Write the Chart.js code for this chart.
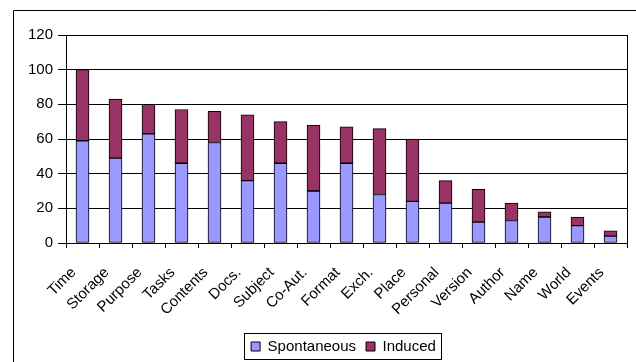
<!DOCTYPE html>
<html>
<head>
<meta charset="utf-8">
<script src="https://cdn.jsdelivr.net/npm/chart.js@4"></script>
<style>
  html, body { margin: 0; padding: 0; background: #fff; }
  #wrap { width: 636px; height: 362px; }
</style>
</head>
<body>
<div id="wrap"><canvas id="chart" width="636" height="362"></canvas></div>
<script>
// === DATI ===
const categories = ["Time", "Storage", "Purpose", "Tasks", "Contents", "Docs.", "Subject", "Co-Aut.", "Format", "Exch.", "Place", "Personal", "Version", "Author", "Name", "World", "Events"];
const spontaneous = [59, 49, 63, 46, 58, 36, 46, 30, 46, 28, 24, 23, 12, 13, 15, 10, 4];
const induced = [41, 34, 17, 31, 18, 38, 24, 38, 21, 38, 36, 13, 19, 10, 3, 5, 3];
const yTicks = [0, 20, 40, 60, 80, 100, 120];

const FONT = { family: "'Liberation Sans', Arial, sans-serif", size: 15 };
const LEGEND_SHIFT_X = 30;
const LEGEND_SHIFT_Y = 4;

// cornice esterna + bordo area grafico + riquadro legenda
const framePlugin = {
    id: "frame",
    afterUpdate(chart) {
        // la legenda nel riferimento e' centrata sull'area del grafico, non sul canvas
        const lg = chart.legend;
        lg.left += LEGEND_SHIFT_X; lg.right += LEGEND_SHIFT_X;
        lg.top += LEGEND_SHIFT_Y; lg.bottom += LEGEND_SHIFT_Y;
        lg.legendHitBoxes.forEach(b => { b.left += LEGEND_SHIFT_X; b.top += LEGEND_SHIFT_Y; });
    },
    beforeDraw(chart) {
        const ctx = chart.ctx;
        ctx.save();
        ctx.strokeStyle = "#000";
        ctx.lineWidth = 1;
        ctx.beginPath();
        ctx.moveTo(13.5, 400);
        ctx.lineTo(13.5, 10.5);
        ctx.lineTo(700, 10.5);
        ctx.stroke();
        ctx.restore();
    },
    afterDraw(chart) {
        const ctx = chart.ctx;
        const a = chart.chartArea;
        ctx.save();
        ctx.strokeStyle = "#000";
        ctx.lineWidth = 1;
        ctx.strokeRect(Math.round(a.left) + 0.5, Math.round(a.top) + 0.5, Math.round(a.right - a.left), Math.round(a.bottom - a.top));

        const boxes = chart.legend.legendHitBoxes;
        if (boxes && boxes.length) {
            const l = Math.min(...boxes.map(b => b.left));
            const r = Math.max(...boxes.map(b => b.left + b.width));
            const t = Math.min(...boxes.map(b => b.top));
            const bt = Math.max(...boxes.map(b => b.top + b.height));
            ctx.strokeRect(Math.round(l) - 6.5, Math.round(t) - 5.5, Math.round(r - l) + 12, Math.round(bt - t) + 11);
        }
        ctx.restore();
    }
};

new Chart(document.getElementById("chart"), {
    type: "bar",
    data: {
        labels: categories,
        datasets: [
            { label: "Spontaneous", data: spontaneous, backgroundColor: "#9999ff", borderColor: "#000", borderWidth: 1, borderSkipped: false },
            { label: "Induced", data: induced, backgroundColor: "#993366", borderColor: "#000", borderWidth: 1, borderSkipped: false }
        ]
    },
    options: {
        responsive: false,
        animation: false,
        events: [],
        layout: { padding: { top: 35, right: 9, left: 0, bottom: 2 } },
        datasets: { bar: { barThickness: 13, categoryPercentage: 1 } },
        plugins: {
            legend: {
                position: "bottom",
                labels: { font: FONT, color: "#000", boxWidth: 9, boxHeight: 9, padding: 10 }
            },
            tooltip: { enabled: false }
        },
        scales: {
            x: {
                stacked: true,
                grid: { offset: true, drawOnChartArea: false, drawTicks: true, tickLength: 5, color: "#000" },
                border: { color: "#000" },
                ticks: {
                    font: FONT, color: "#000", minRotation: 45, maxRotation: 45, autoSkip: false, padding: 7,
                    // spazi finali: spostano l'etichetta ruotata in basso a sinistra come in Excel
                    callback: (v, i) => categories[i] + "   "
                },
                afterFit: s => { s.height = 82; }
            },
            y: {
                stacked: true,
                min: 0,
                max: 120,
                afterBuildTicks: s => { s.ticks = yTicks.map(v => ({ value: v })); },
                grid: { color: "#000", tickLength: 8 },
                border: { color: "#000" },
                ticks: { font: FONT, color: "#000", padding: 5 },
                afterFit: s => { s.width = 66; }
            }
        }
    },
    plugins: [framePlugin]
});
</script>
</body>
</html>
